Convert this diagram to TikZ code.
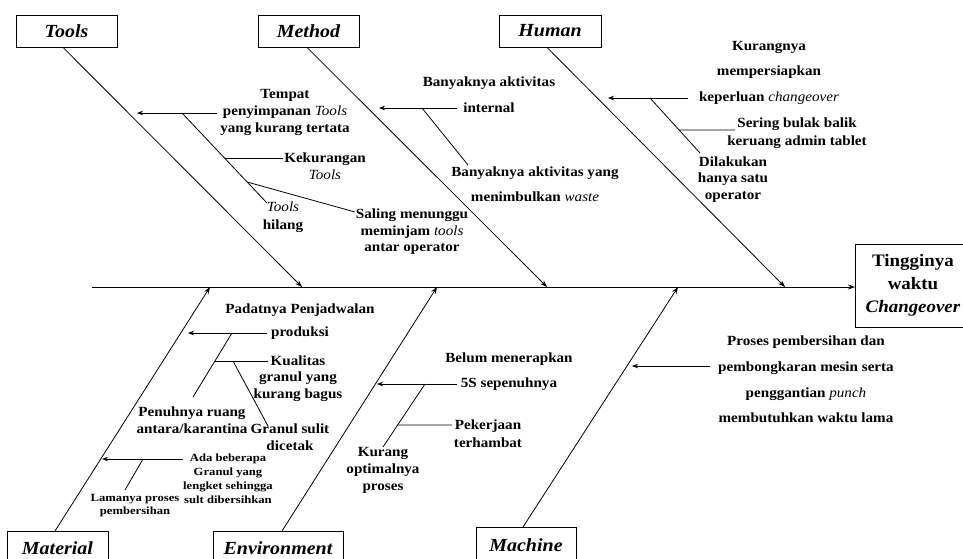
\documentclass[tikz,border=0pt]{standalone}
\usepackage{fontspec}
\setmainfont{Liberation Serif}[FakeStretch=1.08]
\newfontfamily\smallserif{Liberation Serif}[FakeStretch=1.15]
\usetikzlibrary{arrows.meta,calc}
\newcommand\ital[1]{{\mdseries\itshape #1}}
\begin{document}
\begin{tikzpicture}[x=1pt,y=-1pt,line width=0.8pt,
  bone/.style={-{Stealth[length=7pt,width=5pt]}},
  subarr/.style={-{Stealth[length=6pt,width=4.5pt]}},
  cat/.style={draw,minimum width=#1,minimum height=32pt,inner sep=0pt,
    font=\bfseries\itshape\fontsize{18.5}{20}\selectfont},
  catbox/.style={draw,minimum width=#1,minimum height=50pt,inner sep=0pt,anchor=north},
  cattext/.style={inner sep=0pt,font=\bfseries\itshape\fontsize{18.5}{20}\selectfont},
  txt/.style={font=\bfseries\fontsize{14}{#1}\selectfont,align=center,inner sep=0pt},
  stxt/.style={font=\smallserif\bfseries\fontsize{11}{#1}\selectfont,align=center,inner sep=0pt}]
\useasboundingbox (0,0) rectangle (963,558);

% category boxes
\node[cat=101pt] (tools) at (66.5,31) {Tools};
\node[cat=101pt] (method) at (308.5,31) {Method};
\node[cat=102pt] (human) at (550,31) {Human};
\node[catbox=101pt] (material) at (57.5,531) {};
\node[cattext] (material-lbl) at (57.5,548) {Material};
\node[catbox=130pt] (env) at (278,531) {};
\node[cattext] (env-lbl) at (278,548) {Environment};
\node[catbox=100pt] (machine) at (526,527) {};
\node[cattext] (machine-lbl) at (526,545) {Machine};

% effect
\node[draw,minimum width=125pt,minimum height=83pt,anchor=west,inner sep=0pt] (effect) at (855,285.5) {};
\node[txt=23,font=\bfseries\fontsize{17.5}{23}\selectfont] (effect-lbl) at (913,285)
  {Tingginya\\waktu\\\textit{Changeover}};

% spine
\coordinate (tail) at (92,287);
\draw[bone] (tail) -- (tail -| effect.west);

% bone ends on spine
\coordinate (tools-e) at (302,287);
\coordinate (method-e) at (547,287);
\coordinate (human-e) at (785,287);
\coordinate (material-e) at (210,287);
\coordinate (env-e) at (437,287);
\coordinate (machine-e) at (678,287);
\draw[bone] ([xshift=-3.5pt]tools.south) -- (tools-e);
\draw[bone] ([xshift=-1.5pt]method.south) -- (method-e);
\draw[bone] ([xshift=-3pt]human.south) -- (human-e);
\draw[bone] ([xshift=-2.5pt]material.north) -- (material-e);
\draw[bone] ([xshift=4pt]env.north) -- (env-e);
\draw[bone] ([xshift=-3pt]machine.north) -- (machine-e);

% ---- Tools ----
\coordinate (t1a) at (217,113); \coordinate (t1b) at (137,113);
\draw[subarr] (t1a) -- (t1b);
\coordinate (t2a) at (182,113); \coordinate (t2b) at (267,203);
\draw (t2a) -- (t2b);
\coordinate (t3a) at ($(t2a)!0.5!(t2b)$); \coordinate (t3b) at (283,158);
\draw (t3a) -- (t3b);
\coordinate (t4a) at ($(t2a)!0.767!(t2b)$); \coordinate (t4b) at (355,212);
\draw (t4a) -- (t4b);
\node[txt=17] (tx1) at (285,112) {Tempat\\penyimpanan \ital{Tools}\\yang kurang tertata};
\node[txt=17] (tx2) at (325,166) {Kekurangan\\\ital{Tools}};
\node[txt=18] (tx3) at (283,217) {\ital{Tools}\\hilang};
\node[txt=16.5] (tx4) at (412,232) {Saling menunggu\\meminjam \ital{tools}\\antar operator};

% ---- Method ----
\coordinate (m1a) at (457,108); \coordinate (m1b) at (379,108);
\draw[subarr] (m1a) -- (m1b);
\coordinate (m2a) at (422,108); \coordinate (m2b) at (468,165);
\draw (m2a) -- (m2b);
\node[txt=26] (mx1) at (489,95) {Banyaknya aktivitas\\internal};
\node[txt=25] (mx2) at (535,184.5) {Banyaknya aktivitas yang\\menimbulkan \ital{waste}};

% ---- Human ----
\coordinate (h1a) at (688,98); \coordinate (h1b) at (608,98);
\draw[subarr] (h1a) -- (h1b);
\coordinate (h2a) at (650,98); \coordinate (h2b) at (700,153);
\draw (h2a) -- (h2b);
\coordinate (h3a) at ($(h2a)!0.582!(h2b)$); \coordinate (h3b) at (735,130);
\draw (h3a) -- (h3b);
\node[txt=25.5] (hx1) at (769,72.5) {Kurangnya\\mempersiapkan\\keperluan \ital{changeover}};
\node[txt=18] (hx2) at (797,133) {Sering bulak balik\\keruang admin tablet};
\node[txt=16.5] (hx3) at (733,179.5) {Dilakukan\\hanya satu\\operator};

% ---- Material ----
\coordinate (a1a) at (267,333); \coordinate (a1b) at (188,333);
\draw[subarr] (a1a) -- (a1b);
\coordinate (a2a) at (232,333); \coordinate (a2b) at (193,397);
\draw (a2a) -- (a2b);
\coordinate (a3a) at ($(a2a)!0.4375!(a2b)$); \coordinate (a3b) at (268,361);
\draw (a3a) -- (a3b);
\coordinate (a4a) at (233,361); \coordinate (a4b) at (268,426);
\draw (a4a) -- (a4b);
\coordinate (a5a) at (183,459); \coordinate (a5b) at (102,459);
\draw[subarr] (a5a) -- (a5b);
\coordinate (a6a) at (143,459); \coordinate (a6b) at (125,490);
\draw (a6a) -- (a6b);
\node[txt=23] (ax1) at (300,321.5) {Padatnya Penjadwalan\\produksi};
\node[txt=16.5] (ax2) at (298,378.5) {Kualitas\\granul yang\\kurang bagus};
\node[txt=17] (ax3) at (192,420.5) {Penuhnya ruang\\antara/karantina};
\node[txt=17] (ax4) at (290,437.5) {Granul sulit\\dicetak};
\node[stxt=14] (ax5) at (228,478.5) {Ada beberapa\\Granul yang\\lengket sehingga\\sult dibersihkan};
\node[stxt=13] (ax6) at (135,506) {Lamanya proses\\pembersihan};

% ---- Environment ----
\coordinate (e1a) at (457,384); \coordinate (e1b) at (377,384);
\draw[subarr] (e1a) -- (e1b);
\coordinate (e2a) at (425,384); \coordinate (e2b) at (383,447);
\draw (e2a) -- (e2b);
\coordinate (e3a) at ($(e2a)!0.651!(e2b)$); \coordinate (e3b) at (452,425);
\draw (e3a) -- (e3b);
\node[txt=25] (ex1) at (509,371.5) {Belum menerapkan\\5S sepenuhnya};
\node[txt=18] (ex2) at (488,434) {Pekerjaan\\terhambat};
\node[txt=17] (ex3) at (383,470) {Kurang\\optimalnya\\proses};

% ---- Machine ----
\coordinate (c1a) at (710,366); \coordinate (c1b) at (632,366);
\draw[subarr] (c1a) -- (c1b);
\node[txt=25.7] (cx1) at (806,379.5) {Proses pembersihan dan\\pembongkaran mesin serta\\penggantian \ital{punch}\\membutuhkan waktu lama};
\end{tikzpicture}
\end{document}
